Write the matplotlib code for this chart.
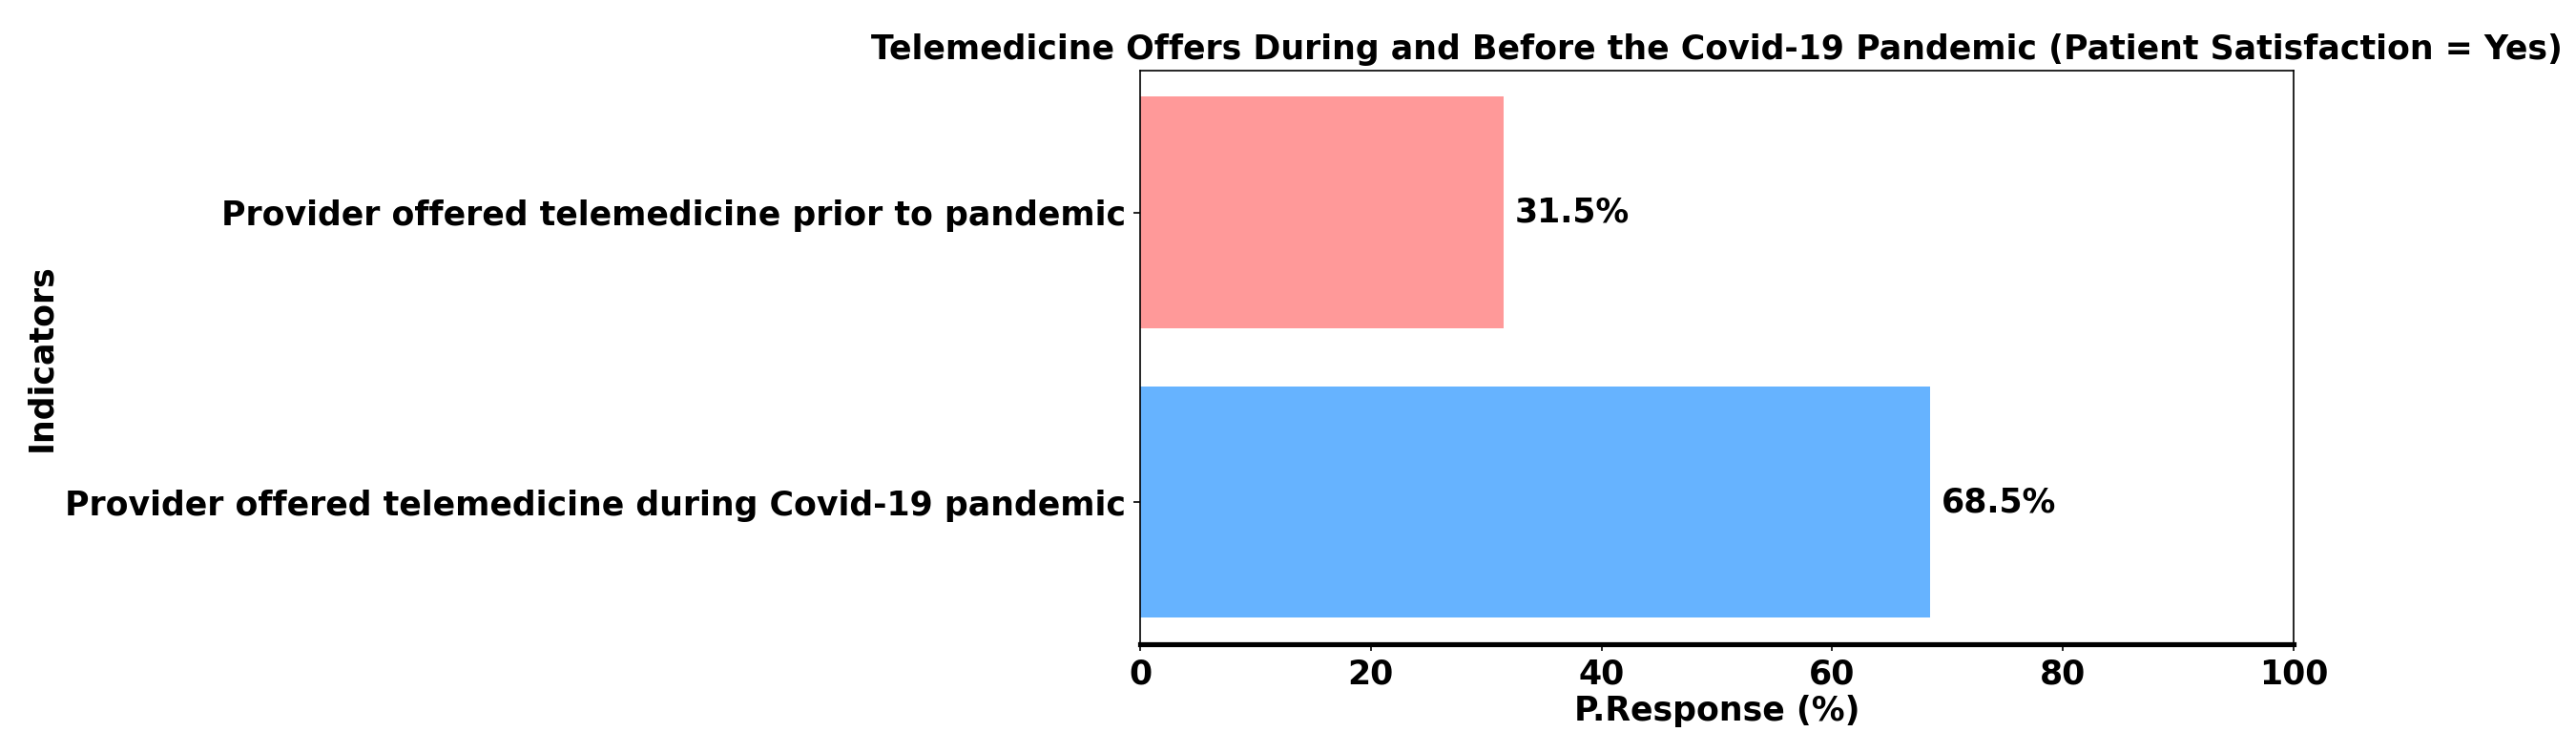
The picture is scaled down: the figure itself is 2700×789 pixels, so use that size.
import matplotlib
matplotlib.use("Agg")
import matplotlib.pyplot as plt

categories = ["Provider offered telemedicine during Covid-19 pandemic",
              "Provider offered telemedicine prior to pandemic"]
values = [68.5, 31.5]
colors = ["#66b3ff", "#ff9999"]
title = "Telemedicine Offers During and Before the Covid-19 Pandemic (Patient Satisfaction = Yes)"

FS = 16.7
fig = plt.figure(figsize=(18, 5.26), dpi=150)
ax = fig.add_axes([0.4426, 0.145, 0.4478, 0.761])
bars = ax.barh(categories, values, color=colors)
for b, v in zip(bars, values):
    ax.text(v + 1, b.get_y() + b.get_height() / 2, f"{v}%", va="center", ha="left",
            fontsize=FS, fontweight="bold")
ax.set_xlim(0, 100)
ax.set_xlabel("P.Response (%)", fontsize=FS, fontweight="bold", labelpad=2.5)
ax.set_ylabel("Indicators", fontsize=FS, fontweight="bold")
ax.set_title(title, fontsize=FS, fontweight="bold")
for lab in ax.get_xticklabels() + ax.get_yticklabels():
    lab.set_fontweight("bold")
    lab.set_fontsize(FS)
ax.spines["bottom"].set_linewidth(2.5)
fig.savefig("out.png", dpi=150)
